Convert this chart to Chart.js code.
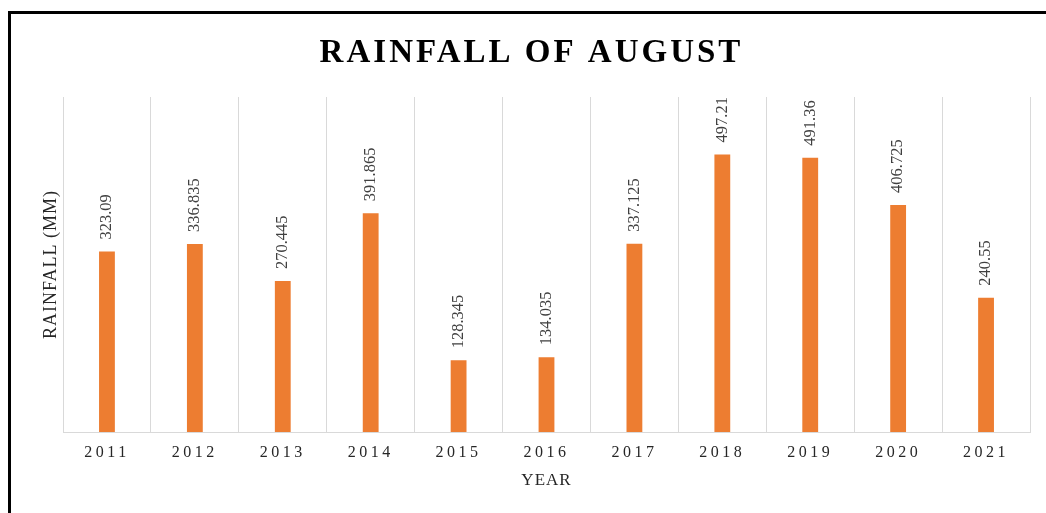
<!DOCTYPE html>
<html>
<head>
<meta charset="utf-8">
<title>Rainfall of August</title>
<script src="https://cdn.jsdelivr.net/npm/chart.js@4/dist/chart.umd.min.js"></script>
<style>
  html, body { margin: 0; padding: 0; background: #fff; overflow: hidden; }
  #frame {
    position: absolute; left: 8px; top: 11px;
    width: 1100px; height: 600px;
    border-top: 3px solid #000; border-left: 3px solid #000;
  }
  #chartBox { position: absolute; left: 11px; top: 14px; width: 1035px; height: 499px; }
</style>
</head>
<body>
<div id="frame"></div>
<div id="chartBox"><canvas id="rainChart"></canvas></div>
<script>
const years = ["2011", "2012", "2013", "2014", "2015", "2016", "2017", "2018", "2019", "2020", "2021"];
const rainfall = [323.09, 336.835, 270.445, 391.865, 128.345, 134.035, 337.125, 497.21, 491.36, 406.725, 240.55];
const chartTitle = "RAINFALL OF AUGUST";
const xTitle = "YEAR";
const yTitle = "RAINFALL (MM)";

const serif = "'Liberation Serif', 'Times New Roman', serif";

// value labels standing upright above each bar, plus letter spacing for ticks and title
const barLabels = {
  id: "barLabels",
  beforeDraw(chart) {
    chart.ctx.letterSpacing = "1px";
  },
  afterDatasetsDraw(chart) {
    const ctx = chart.ctx;
    const meta = chart.getDatasetMeta(0);
    ctx.save();
    ctx.letterSpacing = "0px";
    ctx.font = "16.5px " + serif;
    ctx.fillStyle = "#404040";
    ctx.textAlign = "left";
    ctx.textBaseline = "middle";
    meta.data.forEach((bar, i) => {
      ctx.save();
      ctx.translate(bar.x, bar.y - 12);
      ctx.rotate(-Math.PI / 2);
      ctx.fillText(String(rainfall[i]), 0, 0);
      ctx.restore();
    });
    ctx.restore();
    ctx.letterSpacing = "3.5px";
  },
  afterDraw(chart) {
    const ctx = chart.ctx;
    ctx.save();
    ctx.letterSpacing = "3px";
    ctx.font = "bold 33px " + serif;
    ctx.fillStyle = "#000";
    ctx.textAlign = "center";
    ctx.textBaseline = "middle";
    ctx.fillText(chartTitle, chart.width / 2 + 3, 39);
    ctx.restore();
    ctx.letterSpacing = "0px";
  }
};

new Chart(document.getElementById("rainChart"), {
  type: "bar",
  data: {
    labels: years,
    datasets: [{
      data: rainfall,
      backgroundColor: "#ED7D31",
      borderWidth: 0,
      categoryPercentage: 1,
      barPercentage: 0.18
    }]
  },
  options: {
    responsive: true,
    maintainAspectRatio: false,
    animation: false,
    layout: { padding: { top: 83, right: 16, bottom: 0, left: 0 } },
    plugins: {
      legend: { display: false },
      tooltip: { enabled: false },
      title: { display: false }
    },
    scales: {
      x: {
        offset: true,
        grid: { display: true, offset: true, color: "#d9d9d9", drawTicks: false, z: -1 },
        border: { display: true, color: "#d9d9d9" },
        ticks: { z: 1, padding: 11, color: "#262626", font: { family: serif, size: 16 } },
        title: {
          display: true, text: xTitle, color: "#262626",
          font: { family: serif, size: 17 }, padding: { top: 0, bottom: 22 }
        },
        afterFit(scale) { scale.height = 81; }
      },
      y: {
        min: 0,
        max: 600,
        grid: { display: false },
        border: { display: false },
        ticks: { display: false },
        title: {
          display: true, text: yTitle, color: "#262626",
          font: { family: serif, size: 18 }, padding: { top: 29, bottom: 0 }
        },
        afterFit(scale) { scale.width = 52; }
      }
    }
  },
  plugins: [barLabels]
});
</script>
</body>
</html>
